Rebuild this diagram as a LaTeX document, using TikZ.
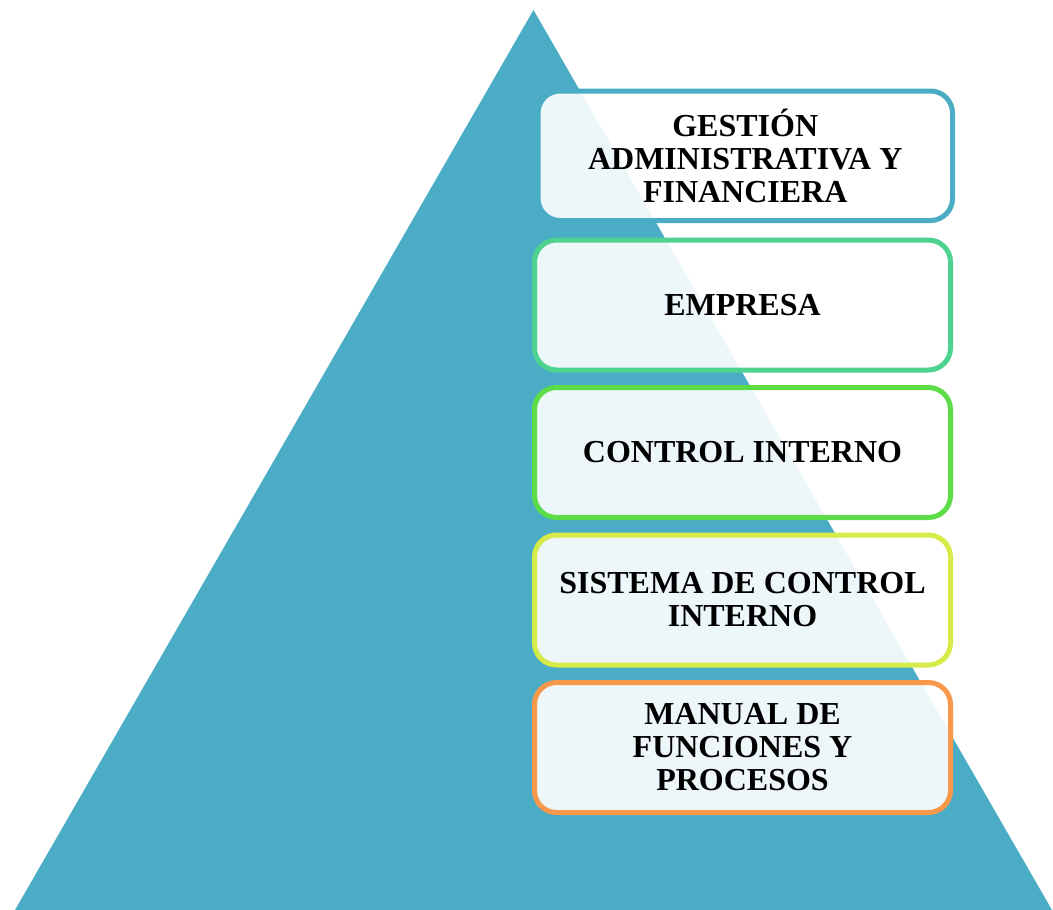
\documentclass[tikz,border=0pt]{standalone}
\usepackage{fontspec}
\setmainfont{Liberation Serif}
\definecolor{pyramid}{HTML}{4BACC6}
\definecolor{edgeA}{HTML}{4BACC6}
\definecolor{edgeB}{HTML}{4DD28F}
\definecolor{edgeC}{HTML}{5CDD48}
\definecolor{edgeD}{HTML}{D6EB47}
\definecolor{edgeE}{HTML}{F8984A}
\tikzset{
  level/.style={draw=#1, line width=5pt, rounded corners=22pt, fill=white,
    fill opacity=0.9, text opacity=1, minimum width=416pt, minimum height=130pt,
    align=center, inner sep=0pt,
    font=\fontsize{32}{33}\selectfont\bfseries}
}
\begin{document}
\begin{tikzpicture}[x=1pt,y=-1pt]
  \useasboundingbox (0,0) rectangle (1053,910);
  % pyramid background
  \fill[pyramid] (15,910) -- (533.5,10) -- (1052,910) -- cycle;
  % stacked levels
  \node[level=edgeA, minimum width=414.5pt, minimum height=129.5pt] (gestion) at (745.25,155.75)
    {GESTIÓN\\ADMINISTRATIVA Y\\FINANCIERA};
  \node[level=edgeB] (empresa) at (742.5,305) {EMPRESA};
  \node[level=edgeC] (control) at (742.5,452.5) {CONTROL INTERNO};
  \node[level=edgeD] (sistema) at (742.5,600) {SISTEMA DE CONTROL\\INTERNO};
  \node[level=edgeE] (manual) at (742.5,747.5) {MANUAL DE\\FUNCIONES Y\\PROCESOS};
\end{tikzpicture}
\end{document}
